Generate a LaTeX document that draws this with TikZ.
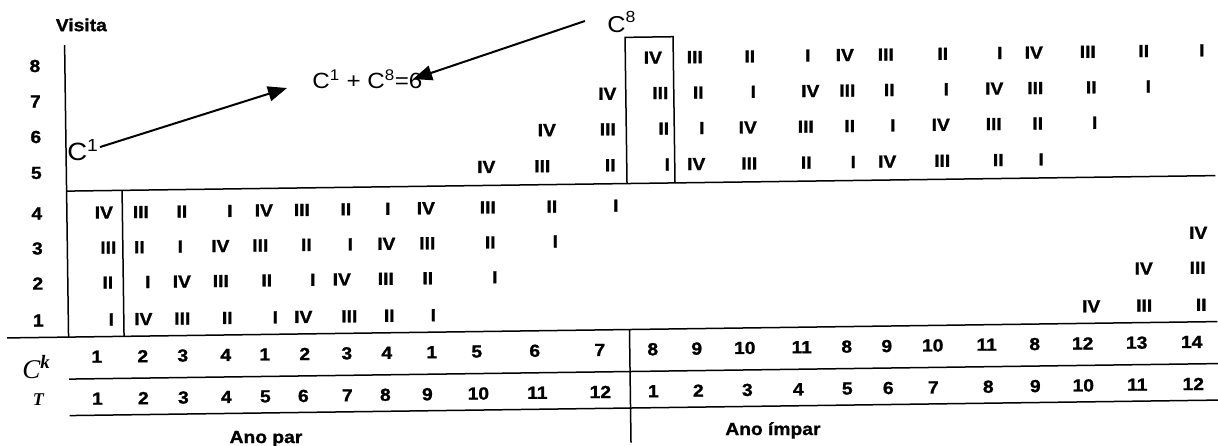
\documentclass[tikz,border=0pt]{standalone}
\usepackage{fontspec}
\setmainfont{Liberation Sans}[FakeStretch=1.1, BoldFeatures={FakeBold=1.2}]
\newfontfamily\serifface{Liberation Serif}
\usetikzlibrary{arrows.meta}
\tikzset{
  bnum/.style={font=\bfseries\fontsize{17.5}{19}\selectfont, inner sep=0pt},
  tline/.style={line width=1.5pt},
  arr/.style={line width=2pt, -{Triangle[length=19pt,width=15pt]}},
  lab/.style={inner sep=0pt, anchor=base west},
}
\begin{document}
\begin{tikzpicture}[x=1pt,y=-1pt]
\useasboundingbox (0,0) rectangle (1218,446);
\fill[white] (0,0) rectangle (1218,446);
\begin{scope}[rotate=0.773]
% axes and table lines
\draw[tline] (64,46) -- (64,338);
\draw[tline] (64,192) -- (1213,192);
\draw[tline] (2.5,338) -- (1213,338);
\draw[tline] (64,380) -- (1213,380);
\draw[tline] (64,416.5) -- (1213,416.5);
\draw[tline] (119.5,192) -- (119.5,338);
\draw[tline] (624.5,192) -- (624.5,45.8) -- (672.5,45.8) -- (672.5,192);
\draw[tline] (625,338) -- (625,451);
% labels
\node[bnum] (visita) at (81,26) {Visita};
\foreach \r/\y in {8/66.5,7/102,6/137.5,5/173.5,4/214,3/249,2/284,1/321}
  \node[bnum] (lab\r) at (34,\y) {\r};
\node[lab, font=\serifface\itshape\fontsize{27}{29}\selectfont] (cklab) at (17,378.3) {C\textsuperscript{\bfseries k}};
\node[font=\serifface\bfseries\itshape\fontsize{18}{20}\selectfont, inner sep=0pt] (tlab) at (33,400) {T};
% upper rows
\foreach \x/\nm [count=\i] in {652/IV,694/III,749/II,807/I,844/IV,885/III,942/II,999/I,1033/IV,1087/III,1143/II,1201/I}
  \node[bnum] (ra\i) at (\x,66.5) {\nm};
\foreach \x/\nm [count=\i] in {606/IV,659/III,697/II,752/I,809/IV,846/III,888/II,945/I,993/IV,1034/III,1090/II,1147/I}
  \node[bnum] (rb\i) at (\x,102) {\nm};
\foreach \x/\nm [count=\i] in {545/IV,606/III,662/II,700/I,746/IV,804/III,848/II,891/I,939/IV,992/III,1036/II,1093/I}
  \node[bnum] (rc\i) at (\x,137.5) {\nm};
\foreach \x/\nm [count=\i] in {484/IV,540/III,608/II,665/I,694/IV,747/III,804/II,851/I,885/IV,940/III,996/II,1039/I}
  \node[bnum] (rd\i) at (\x,173.5) {\nm};
% lower rows
\foreach \x/\nm [count=\i] in {101/IV,138/III,179/II,227/I,261/IV,299/III,343/II,385/I,423/IV,485/III,549/II,613/I}
  \node[bnum] (re\i) at (\x,214) {\nm};
\foreach \x/\nm [count=\i] in {105/III,136/II,177/I,217/IV,257/III,303/II,347/I,383/IV,424/III,487/II,552/I,1195/IV}
  \node[bnum] (rf\i) at (\x,249) {\nm};
\foreach \x/\nm [count=\i] in {104/II,144/I,178/IV,217/III,263/II,309/I,338/IV,382/III,424/II,491/I,1140/IV,1194/III}
  \node[bnum] (rg\i) at (\x,284) {\nm};
\foreach \x/\nm [count=\i] in {107/I,139/IV,178/III,223/II,271/I,299/IV,345/III,385/II,429/I,1087/IV,1140/III,1197/II}
  \node[bnum] (rh\i) at (\x,321) {\nm};
% C^k row
\foreach \x/\nm [count=\i] in {92/1,138/2,178/3,221/4,260/1,300/2,342/3,382/4,427/1,472/5,530/6,595/7,648/8,692/9,740/10,797/11,842/8,882/9,928/10,982/11,1030/8,1078/12,1132/13,1187/14}
  \node[bnum] (ck\i) at (\x,358) {\nm};
% T row
\foreach \x/\nm [count=\i] in {92/1,138/2,178/3,221/4,260/5,298/6,342/7,380/8,422/9,473/10,532/11,595/12,648/1,693/2,742/3,793/4,842/5,883/6,928/7,983/8,1030/9,1078/10,1132/11,1188/12}
  \node[bnum] (tt\i) at (\x,400) {\nm};
% year labels
\node[bnum, anchor=base] (anopar) at (260,446.6) {Ano par};
\node[bnum, anchor=base] (anoimpar) at (767,445.4) {Ano ímpar};
% annotation
\node[lab, font=\fontsize{22}{24}\selectfont] (form) at (311,92.3) {C\textsuperscript{1} + C\textsuperscript{8}=6};
\node[lab, font=\fontsize{25}{28}\selectfont] (c1) at (65,161) {C\textsuperscript{1}};
\node[lab, font=\fontsize{23}{26}\selectfont] (c8) at (606.6,40.2) {C\textsuperscript{8}};
\coordinate (s1) at (98,148.4);
\coordinate (t1) at (285.8,91.9);
\coordinate (s8) at (584.7,28.9);
\coordinate (t8) at (412,84.6);
\draw[arr] (s1) -- (t1);
\draw[arr] (s8) -- (t8);
\end{scope}
\end{tikzpicture}
\end{document}
